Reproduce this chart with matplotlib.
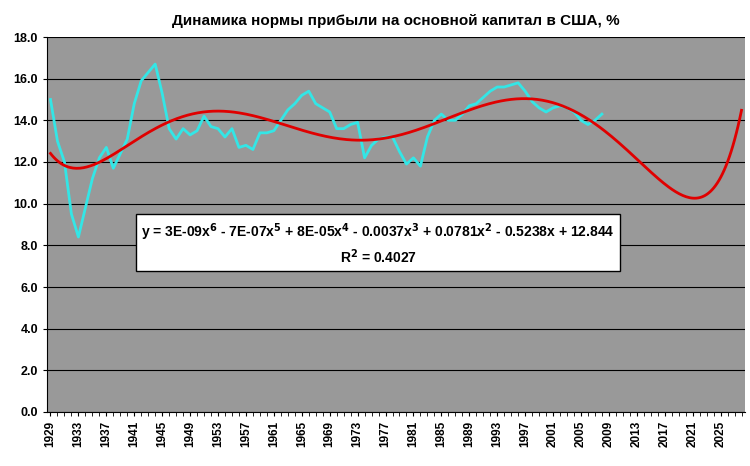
import numpy as np
import matplotlib.pyplot as plt

plt.rcParams['font.family'] = 'Liberation Sans'
plt.rcParams['font.weight'] = 'bold'

years = list(range(1929, 2009))
profit_rate = [15.0, 13.0, 12.0, 9.5, 8.4, 9.8, 11.2, 12.2, 12.7, 11.7,
               12.4, 13.1, 14.8, 15.9, 16.3, 16.7, 15.3, 13.6, 13.1, 13.6,
               13.3, 13.5, 14.2, 13.7, 13.6, 13.2, 13.6, 12.7, 12.8, 12.6,
               13.4, 13.4, 13.5, 14.0, 14.5, 14.8, 15.2, 15.4, 14.8, 14.6,
               14.4, 13.6, 13.6, 13.8, 13.9, 12.2, 12.8, 13.1, 13.2, 13.2,
               12.5, 11.9, 12.2, 11.8, 13.2, 14.0, 14.3, 14.0, 14.0, 14.3,
               14.7, 14.8, 15.1, 15.4, 15.6, 15.6, 15.7, 15.8, 15.4, 14.9,
               14.6, 14.4, 14.6, 14.7, 14.6, 14.4, 14.0, 13.8, 14.0, 14.3]
trend_years = list(range(1929, 2029))
# значения линии тренда
trend_read_years = [1929, 1933, 1937, 1941, 1945, 1949, 1953, 1957, 1961, 1965,
                    1969, 1973, 1977, 1981, 1985, 1989, 1993, 1997, 2001, 2005,
                    2009, 2013, 2017, 2021, 2025, 2028]
trend_read = [12.4, 11.75, 12.1, 13.0, 13.8, 14.3, 14.45, 14.3, 13.9, 13.5,
              13.2, 13.1, 13.2, 13.5, 13.9, 14.4, 14.9, 15.15, 14.9, 14.2,
              13.3, 12.1, 11.0, 10.3, 11.2, 14.5]
equation = ("y = 3E-09x$^6$ - 7E-07x$^5$ + 8E-05x$^4$ - 0.0037x$^3$ "
            "+ 0.0781x$^2$ - 0.5238x + 12.844")
r2_text = "R$^2$ = 0.4027"

x_data = np.arange(1, len(years) + 1)
x_trend = np.arange(1, len(trend_years) + 1)
xr = np.array(trend_read_years) - 1928
t = (xr - 50) / 50
coefs = np.polyfit(t, trend_read, 10)
x_fine = np.linspace(1, len(trend_years), 400)
trend = np.polyval(coefs, (x_fine - 50) / 50)

fig = plt.figure(figsize=(7.5, 4.66), dpi=100)
ax = fig.add_axes([47 / 750, 1 - 412 / 466, 698 / 750, 375 / 466])
ax.set_facecolor('#999999')

ax.plot(x_data, profit_rate, color='#33e6e6', linewidth=2)
ax.plot(x_fine, trend, color='#e00000', linewidth=2)

ax.set_xlim(0.5, len(trend_years) + 0.5)
ax.set_ylim(0, 18)
ax.set_yticks(np.arange(0, 18.1, 2))
ax.set_yticklabels([f'{v:.1f}' for v in np.arange(0, 18.1, 2)], fontsize=9)
ax.yaxis.grid(True, color='black', linewidth=0.8)
ax.set_axisbelow(True)

ax.set_xticks(x_trend[::4])
ax.set_xticklabels([str(y) for y in trend_years[::4]], rotation=90, fontsize=8.5)
ax.set_xticks(x_trend, minor=True)
ax.tick_params(axis='x', which='both', length=3)
ax.tick_params(axis='y', length=3)
for s in ['top', 'right']:
    ax.spines[s].set_visible(False)

ax.set_title('Динамика нормы прибыли на основной капитал в США, %',
             fontsize=11, fontweight='bold', pad=9)

fig.text(378 / 750, 1 - 244 / 466, equation + '\n' + r2_text, ha='center', va='center',
         fontsize=10, fontweight='bold', linespacing=1.3,
         bbox=dict(facecolor='white', edgecolor='black', boxstyle='square,pad=0.35'))

fig.savefig('out.png', dpi=100)
